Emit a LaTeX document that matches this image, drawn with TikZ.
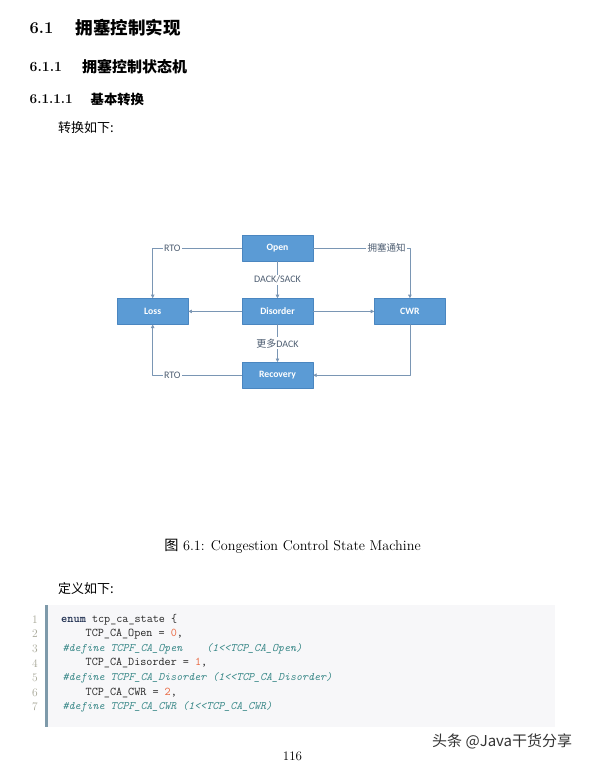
\documentclass[tikz,border=0pt]{standalone}
\usepackage{fontspec}
\newfontfamily\cjk{Noto Sans CJK SC}
\newfontfamily\calib{Carlito}
\usetikzlibrary{arrows.meta,positioning}
\definecolor{boxblue}{HTML}{5B9BD5}
\definecolor{boxedge}{HTML}{4A86C0}
\definecolor{linegray}{HTML}{7A96B4}
\definecolor{lblgray}{HTML}{4E5E72}
\definecolor{codebg}{HTML}{F7F7F9}
\definecolor{codebar}{HTML}{7E9AAA}
\definecolor{lnogray}{HTML}{A6A696}
\definecolor{kwcol}{HTML}{1E2E50}
\definecolor{numcol}{HTML}{E8643C}
\definecolor{comcol}{HTML}{3C8A8A}
\newcommand{\fs}[1]{\fontsize{#1}{#1}\selectfont}
\tikzset{
  state/.style={draw=boxedge,fill=boxblue,minimum width=71pt,minimum height=26pt,inner sep=0pt,text=white,font=\calib\bfseries\fs{9.7}},
  flow/.style={draw=linegray,line width=.6pt,-{Triangle[length=3.5pt,width=3.5pt]}},
  lbl/.style={fill=white,inner sep=1.5pt,text=lblgray,font=\calib\fs{10}},
  txt/.style={anchor=west,inner sep=0pt},
  code/.style={txt,font=\ttfamily\fs{11.8},text=black!85},
  comment/.style={font=\ttfamily\itshape\fs{11.4},text=comcol},
  lno/.style={inner sep=0pt,text=lnogray,font=\fs{11.5}}
}
\begin{document}
\begin{tikzpicture}[x=1pt,y=-1pt,line cap=round,line join=round]
  \fill[white] (0,0) rectangle (589,763);
  \useasboundingbox (0,0) rectangle (589,763);
  % headings
  \node[txt,font=\bfseries\fs{16.5}] (sec) at (29.5,28) {6.1};
  \node[txt,font=\cjk\bfseries\fs{17.5}] (sectitle) at (75.5,28) {拥塞控制实现};
  \node[txt,font=\bfseries\fs{14}] (subsec) at (29.5,67) {6.1.1};
  \node[txt,font=\cjk\bfseries\fs{15}] (subsectitle) at (82,67) {拥塞控制状态机};
  \node[txt,font=\bfseries\fs{13.5}] (subsub) at (29.5,99) {6.1.1.1};
  \node[txt,font=\cjk\bfseries\fs{13.3}] (subsubtitle) at (90.5,99) {基本转换};
  \node[txt,font=\cjk\fs{13}] (intro) at (58,128) {转换如下:};
  % state machine
  \node[state] (open) at (277.5,248) {Open};
  \node[state,below=37pt of open] (disorder) {Disorder};
  \node[state,left=53.4pt of disorder] (loss) {Loss};
  \node[state,right=61pt of disorder] (cwr) {CWR};
  \node[state,below=37.4pt of disorder] (recovery) {Recovery};
  \draw[flow] (open) -| node[lbl,pos=.39]{RTO} (loss);
  \draw[flow] (open) -| node[lbl,pos=.38,font=\cjk\fs{9.5}]{拥塞通知} (cwr);
  \draw[flow] (open) -- node[lbl]{DACK/SACK} (disorder);
  \draw[flow] (disorder) -- (loss);
  \draw[flow] (disorder) -- (cwr);
  \draw[flow] (disorder) -- node[lbl]{{\cjk 更多}DACK} (recovery);
  \draw[flow] (cwr) |- (recovery);
  \draw[flow] (recovery) -| node[lbl,pos=.39]{RTO} (loss);
  \node[font=\fs{14.2}] (caption) at (292.5,546) {{\cjk 图} 6.1: Congestion Control State Machine};
  % listing
  \node[txt,font=\cjk\fs{13}] (defs) at (58,589) {定义如下:};
  \fill[codebg] (45,605) rectangle (555,727);
  \fill[codebar] (45,605) rectangle (48,727);
  \foreach \n/\y in {1/619.5,2/634.1,3/648.7,4/663.3,5/677.9,6/692.5,7/707.1}
    \node[lno] (ln\n) at (35,\y) {\n};
  \node[code] (c1) at (61,619.5) {{\bfseries\color{kwcol}enum} tcp\_ca\_state \{};
  \node[code] (c2) at (85.5,634.1) {TCP\_CA\_Open = {\color{numcol}0},};
  \node[code,comment] (c3) at (62.5,648.7) {\#define TCPF\_CA\_Open\ \ \ \ (1<<TCP\_CA\_Open)};
  \node[code] (c4) at (85.5,663.3) {TCP\_CA\_Disorder = {\color{numcol}1},};
  \node[code,comment] (c5) at (62.5,677.9) {\#define TCPF\_CA\_Disorder (1<<TCP\_CA\_Disorder)};
  \node[code] (c6) at (85.5,692.5) {TCP\_CA\_CWR = {\color{numcol}2},};
  \node[code,comment] (c7) at (62.5,707.1) {\#define TCPF\_CA\_CWR (1<<TCP\_CA\_CWR)};
  % footer
  \node[txt,font=\cjk\fs{15},text=black!80] (mark) at (432,741) {头条 @Java干货分享};
  \node[font=\fs{13}] (page) at (292.5,756) {116};
\end{tikzpicture}
\end{document}
